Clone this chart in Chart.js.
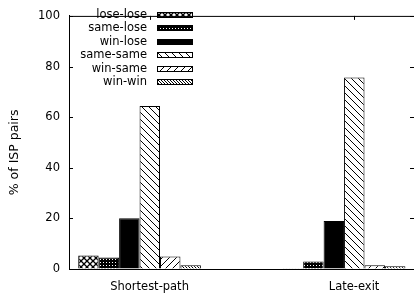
<!DOCTYPE html>
<html>
<head>
<meta charset="utf-8">
<script src="https://cdn.jsdelivr.net/npm/chart.js@4/dist/chart.umd.min.js"></script>
<style>
  html, body { margin: 0; padding: 0; background: #fff; overflow: hidden; }
  #wrap { width: 414px; height: 294px; }
</style>
</head>
<body>
<div id="wrap"><canvas id="isp" width="414" height="294"></canvas></div>
<script>
// data
const groups = ["Shortest-path", "Late-exit"];
const loseLose = [5.3, 0.3];
const sameLose = [4.5, 3.0];
const winLose = [20.1, 19.0];
const sameSame = [64.4, 75.7];
const winSame = [4.9, 1.5];
const winWin = [1.5, 1.1];

const FONT = "DejaVu Sans";

// little fill patterns like gnuplot's
const makePattern = (size, draw) => {
    const c = document.createElement("canvas");
    c.width = size; c.height = size;
    const g = c.getContext("2d");
    g.fillStyle = "#fff";
    g.fillRect(0, 0, size, size);
    g.strokeStyle = "#000";
    g.fillStyle = "#000";
    draw(g, size);
    return g.createPattern(c, "repeat");
};
const back = (w) => (g, s) => { // "\\\\"
    g.lineWidth = w;
    g.beginPath();
    for (let k = -s; k <= s; k += s) { g.moveTo(k, 0); g.lineTo(k + s, s); }
    g.stroke();
};
const fwd = (w) => (g, s) => { // "////"
    g.lineWidth = w;
    g.beginPath();
    for (let k = -s; k <= 2 * s; k += s) { g.moveTo(k, s); g.lineTo(k + s, 0); }
    g.stroke();
};
const cross = (g, s) => {
    back(1.3)(g, s);
    fwd(1.3)(g, s);
};
const dots = (g, s) => {
    g.fillRect(0, 0, s, s);
    g.fillStyle = "#fff";
    g.fillRect(1, 1, 1, 1);
};

const fills = [
    makePattern(6, cross),
    makePattern(3, dots),
    "#000",
    makePattern(7, back(1)),
    makePattern(7, fwd(1)),
    makePattern(3, back(1))
];
const names = ["lose-lose", "same-lose", "win-lose", "same-same", "win-same", "win-win"];
const series = [loseLose, sameLose, winLose, sameSame, winSame, winWin];

const legendBoxes = {
    id: "legendBoxes",
    afterDatasetsDraw(chart) {
        const ctx = chart.ctx;
        ctx.save();
        ctx.font = "11.5px '" + FONT + "'";
        ctx.textAlign = "right";
        ctx.textBaseline = "middle";
        ctx.lineWidth = 1;
        ctx.strokeStyle = "#000";
        chart.data.datasets.forEach((ds, i) => {
            const y = Math.round(15 + i * 13.4);
            ctx.fillStyle = "#000";
            ctx.fillText(ds.label, 147, y);
            ctx.fillStyle = ds.backgroundColor;
            ctx.fillRect(157, y - 3, 36, 6);
            ctx.strokeRect(157.5, y - 2.5, 35, 5);
        });
        ctx.restore();
    }
};

// top border and inward tick marks
const frame = {
    id: "frame",
    afterDraw(chart) {
        const ctx = chart.ctx;
        const a = chart.chartArea;
        const x = chart.scales.x, y = chart.scales.y;
        const line = (x1, y1, x2, y2) => { ctx.beginPath(); ctx.moveTo(x1, y1); ctx.lineTo(x2, y2); ctx.stroke(); };
        ctx.save();
        ctx.strokeStyle = "#000";
        ctx.lineWidth = 1;
        line(a.left, a.top + 0.5, a.right, a.top + 0.5);
        y.ticks.forEach((t, i) => {
            const py = Math.round(y.getPixelForTick(i)) + 0.5;
            line(a.left, py, a.left + 4, py);
            line(a.right - 4, py, a.right, py);
        });
        x.ticks.forEach((t, i) => {
            const px = Math.round(x.getPixelForTick(i) + 10) + 0.5;
            line(px, a.top, px, a.top + 4);
        });
        ctx.restore();
    }
};

new Chart("isp", {
    type: "bar",
    data: {
        labels: groups.map((g, i) => i),
        datasets: series.map((s, i) => ({
            label: names[i],
            data: s,
            backgroundColor: fills[i],
            borderColor: "#000",
            borderWidth: 1,
            categoryPercentage: 0.6,
            barPercentage: 1
        }))
    },
    options: {
        responsive: false,
        animation: false,
        layout: { padding: { top: 5, right: 0, left: 0, bottom: 0 } },
        plugins: {
            legend: { display: false },
            tooltip: { enabled: false }
        },
        scales: {
            x: {
                type: "linear",
                offset: false,
                min: -0.345,
                max: 1.342,
                afterBuildTicks: (s) => { s.ticks = groups.map((g, i) => ({ value: i })); },
                afterFit: (s) => { s.height = 25; },
                grid: { drawOnChartArea: false, drawTicks: false, offset: false },
                border: { display: true, color: "#000", width: 1 },
                ticks: {
                    callback: (v) => groups[v],
                    labelOffset: 10,
                    padding: 11,
                    maxRotation: 0,
                    color: "#000",
                    font: { family: FONT, size: 11.5 }
                }
            },
            y: {
                min: 0,
                max: 100,
                afterFit: (s) => { s.width = 69; },
                grid: { drawOnChartArea: false, drawTicks: false },
                border: { display: true, color: "#000", width: 1 },
                ticks: {
                    stepSize: 20,
                    padding: 9,
                    color: "#000",
                    font: { family: FONT, size: 11.5 }
                },
                title: {
                    display: true,
                    text: "% of ISP pairs     ",
                    color: "#000",
                    padding: { top: 7, bottom: 0 },
                    font: { family: FONT, size: 12.5 }
                }
            }
        }
    },
    plugins: [legendBoxes, frame]
});
</script>
</body>
</html>
